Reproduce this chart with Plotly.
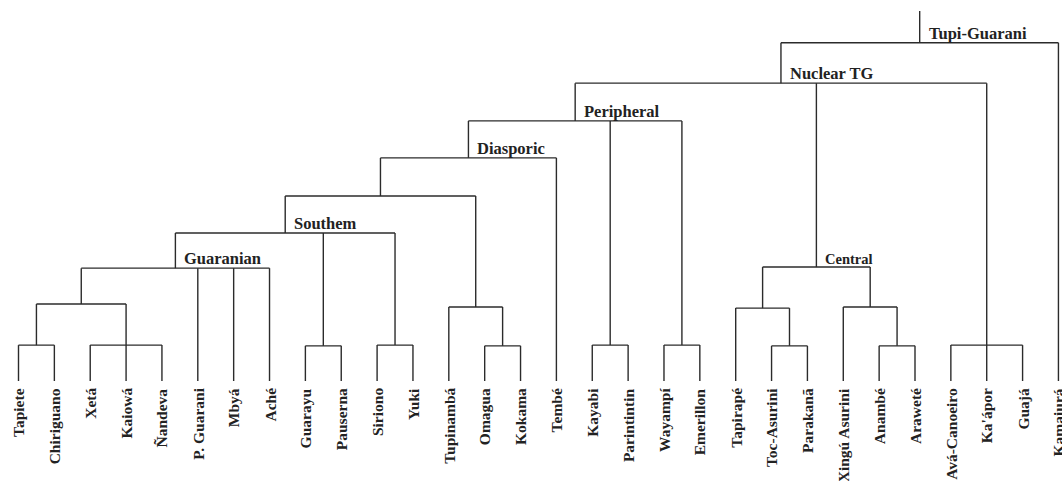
import plotly.graph_objects as go

# ---- data ----
leaves = ["Tapiete", "Chiriguano", "Xetá", "Kaiowá", "Ñandeva", "P. Guarani", "Mbyá", "Aché",
          "Guarayu", "Pauserna", "Siriono", "Yuki", "Tupinambá", "Omagua", "Kokama", "Tembé",
          "Kayabi", "Parintintin", "Wayampí", "Emerillon", "Tapirapé", "Toc-Asurini", "Parakanã",
          "Xingú Asurini", "Anambé", "Araweté", "Avá-Canoeiro", "Ka'ápor", "Guajá", "Kamaiurá"]

node_names = ["A", "B", "C", "Guaranian", "D", "E", "Southem", "F", "G", "H", "Diasporic",
              "I", "J", "Peripheral", "K", "L", "M", "N", "Central", "O", "Nuclear TG", "Tupi-Guarani"]
node_children = [
    ["Tapiete", "Chiriguano"],
    ["Xetá", "Kaiowá", "Ñandeva"],
    ["A", "B"],
    ["C", "P. Guarani", "Mbyá", "Aché"],
    ["Guarayu", "Pauserna"],
    ["Siriono", "Yuki"],
    ["Guaranian", "D", "E"],
    ["Omagua", "Kokama"],
    ["Tupinambá", "F"],
    ["Southem", "G"],
    ["H", "Tembé"],
    ["Kayabi", "Parintintin"],
    ["Wayampí", "Emerillon"],
    ["Diasporic", "I", "J"],
    ["Toc-Asurini", "Parakanã"],
    ["Tapirapé", "K"],
    ["Anambé", "Araweté"],
    ["Xingú Asurini", "M"],
    ["L", "N"],
    ["Avá-Canoeiro", "Ka'ápor", "Guajá"],
    ["Peripheral", "Central", "O"],
    ["Nuclear TG", "Kamaiurá"],
]
node_heights = [0.97, 0.97, 2.08, 3.05, 0.95, 0.97, 4.0, 0.95, 2.0, 5.0, 6.03,
                0.97, 0.97, 7.03, 0.95, 1.97, 0.95, 2.0, 3.08, 0.97, 8.05, 9.14]
clade_labels = ["Guaranian", "Southem", "Diasporic", "Peripheral", "Central", "Nuclear TG", "Tupi-Guarani"]
root_top = 10.0

# ---- layout computation ----
pos = {name: (float(i), 0.0) for i, name in enumerate(leaves)}
xs, ys = [], []
for name, children, h in zip(node_names, node_children, node_heights):
    cx = [pos[c][0] for c in children]
    nx = (min(cx) + max(cx)) / 2
    for c in children:
        x0, y0 = pos[c]
        xs += [x0, x0, None]
        ys += [y0, h, None]
    xs += [min(cx), max(cx), None]
    ys += [h, h, None]
    pos[name] = (nx, h)
rx, ry = pos[node_names[-1]]
xs += [rx, rx, None]
ys += [ry, root_top, None]

fig = go.Figure()
fig.add_trace(go.Scatter(x=xs, y=ys, mode="lines", line=dict(color="#2b2b2b", width=1.4),
                         hoverinfo="skip", showlegend=False, cliponaxis=False))

font_family = "Liberation Serif"
for i, name in enumerate(leaves):
    fig.add_annotation(x=i, y=0, text="<b>" + name + "</b>", textangle=-90, showarrow=False,
                       xanchor="center", yanchor="top", yshift=-5,
                       font=dict(family=font_family, size=15.5, color="#222"))

for lab in clade_labels:
    x, y = pos[lab]
    size = 14.5 if lab == "Central" else 16.5
    fig.add_annotation(x=x, y=y, text="<b>" + lab + "</b>", showarrow=False,
                       xanchor="left", yanchor="bottom", xshift=7, yshift=-2,
                       font=dict(family=font_family, size=size, color="#222"))

W, H = 1062, 481
x_left_px, dx_px = 18.5, 35.86
y_leaf_px, dy_px = 381.0, 37.0
fig.update_layout(
    width=W, height=H, margin=dict(l=0, r=0, t=0, b=0),
    paper_bgcolor="white", plot_bgcolor="white",
    xaxis=dict(range=[-x_left_px / dx_px, (W - x_left_px) / dx_px], visible=False, fixedrange=True),
    yaxis=dict(range=[-(H - y_leaf_px) / dy_px, y_leaf_px / dy_px], visible=False, fixedrange=True),
)
fig.write_html("out.html", config={"displayModeBar": False},
               post_script="document.body.style.margin='0';document.body.style.overflow='hidden';")
